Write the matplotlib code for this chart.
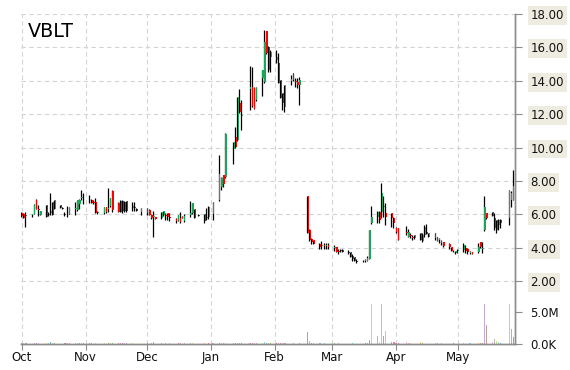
import pandas as pd
import matplotlib
matplotlib.use('Agg')
import matplotlib.pyplot as plt
import matplotlib.dates as mdates

# trading days Oct 1 2014 .. May 28 2015 (NYSE holidays removed)
holidays = ['2014-11-27', '2014-12-25', '2015-01-01', '2015-01-19',
            '2015-02-16', '2015-04-03', '2015-05-25']
dates = pd.bdate_range('2014-10-01', '2015-05-28', freq='C', holidays=holidays)

nan = float('nan')

opens = [
    # Oct
    6.10, 6.04, 5.92, 5.98, 6.04, 6.88, 6.30, 5.98, 6.54, 5.95, 6.10, 6.74,
    6.34, 6.54, 6.40, 6.00, 6.05, 6.04, 6.30, 6.24, 6.60, 7.00, 7.00,
    # Nov
    7.00, 6.85, 6.76, 6.76, 6.10, 6.10, 6.42, 6.30, 6.52, 7.40, 6.70, 6.80,
    6.80, 6.75, 6.80, 6.40, 6.45, 6.34, 6.16,
    # Dec
    6.32, 6.26, 5.98, 5.85, 5.82, 5.76, 5.96, 5.95, 6.06, 5.85, 5.72, 5.60,
    5.76, 5.86, 5.60, 5.95, 6.05, 6.30, 5.96, 6.00, 5.80, 5.86,
    # Jan
    6.04, 6.84, 7.64, 8.34, 8.24, nan, 9.94, 10.64, 10.48, 12.68, 11.90, 13.50,
    13.64, 13.54, 12.84, 14.14, 13.94, 16.98, 16.04, 15.40,
    # Feb
    15.24, 15.04, 14.04, 13.24, 12.44, 14.00, 14.44, 14.00, 13.90, 13.74,
    7.07, 5.05, 4.50, 4.44, 4.24, 4.10, 4.15, 4.10, 4.14,
    # Mar
    4.00, 4.04, 3.80, 3.85, 3.88, 3.75, 3.74, 3.50, 3.43, 3.20, 3.20, 3.20,
    3.23, 3.33, 5.45, 5.86, 6.16, 6.16, 6.45, 6.06, 6.06, 5.76,
    # Apr
    5.20, 5.15, 4.95, 4.65, 4.75, 4.65, 4.55, 4.85, 4.38, 4.75, 4.95, 4.65,
    4.85, 4.65, 4.45, 4.40, 4.34, 4.24, 4.04, 3.82, 3.68,
    # May
    3.80, 3.84, 4.00, 3.92, 3.70, 3.74, 3.74, 4.34, 3.90, 5.05, 6.06, 6.12,
    5.76, 5.66, 5.35, 5.66, 5.76, 6.87, 6.87,
]
highs = [
    6.16, 6.08, 6.14, 6.04, 6.62, 6.90, 6.54, 6.20, 6.56, 6.14, 7.30, 6.76,
    6.86, 6.56, 6.44, 6.12, 6.48, 6.46, 6.74, 6.86, 6.94, 7.45, 7.25,
    7.16, 6.90, 6.85, 6.96, 6.20, 6.46, 6.46, 7.60, 6.98, 7.46, 6.75, 6.85,
    6.85, 6.78, 6.82, 6.76, 6.74, 6.40, 6.40,
    6.40, 6.30, 6.00, 6.20, 5.86, 6.16, 6.20, 6.06, 6.08, 6.06, 5.80, 5.98,
    6.15, 5.90, 6.00, 6.80, 6.70, 6.32, 6.00, 6.02, 6.35, 6.52,
    6.76, 9.54, 8.24, 8.36, 10.86, nan, 10.34, 11.20, 13.02, 13.48, 12.84, 14.90,
    14.84, 13.60, 13.60, 14.66, 17.04, 17.00, 16.06, 15.84,
    15.84, 15.68, 14.06, 13.26, 13.76, 14.34, 14.46, 14.14, 14.14, 14.24,
    7.10, 5.10, 4.60, 4.46, 4.26, 4.38, 4.28, 4.28, 4.28,
    4.18, 4.06, 3.94, 3.94, 3.90, 3.88, 3.76, 3.64, 3.45, 3.33, 3.27, 3.33,
    3.47, 5.07, 6.50, 6.18, 6.18, 7.88, 7.07, 6.67, 6.08, 5.86,
    5.25, 5.20, 5.30, 5.10, 4.85, 4.75, 4.77, 4.86, 4.85, 5.35, 5.41, 4.87,
    4.86, 4.66, 4.60, 4.48, 4.35, 4.25, 4.05, 3.88, 3.80,
    3.90, 4.28, 4.18, 3.95, 3.80, 3.75, 4.28, 4.36, 4.34, 7.11, 6.10, 6.14,
    6.06, 5.67, 5.70, 5.70, 7.47, 7.37, 8.66,
]
lows = [
    5.86, 5.78, 5.24, 5.84, 6.00, 6.30, 5.88, 5.95, 5.84, 5.88, 5.98, 5.94,
    6.30, 6.38, 6.30, 5.88, 5.84, 6.00, 5.98, 6.20, 6.34, 6.84, 6.64,
    6.66, 6.65, 6.60, 6.05, 6.00, 6.04, 6.10, 6.16, 6.45, 6.15, 6.12, 6.12,
    6.10, 6.15, 6.15, 6.20, 6.20, 6.20, 5.98,
    5.96, 5.96, 5.72, 4.65, 5.70, 5.74, 5.90, 5.66, 5.66, 5.60, 5.50, 5.58,
    5.50, 5.75, 5.55, 5.85, 6.00, 5.75, 5.90, 5.46, 5.64, 5.74,
    5.64, 6.80, 7.44, 7.64, 8.20, nan, 9.04, 10.00, 10.40, 12.04, 11.04, 12.24,
    12.44, 12.28, 12.80, 13.08, 13.84, 15.60, 14.54, 14.54,
    15.04, 13.84, 12.94, 12.24, 12.10, 13.74, 14.00, 13.64, 13.54, 12.54,
    4.85, 4.40, 4.24, 4.20, 3.94, 3.94, 3.94, 3.94, 3.94,
    3.78, 3.72, 3.60, 3.74, 3.72, 3.60, 3.42, 3.23, 3.20, 3.09, 3.13, 3.13,
    3.20, 3.30, 5.40, 5.45, 5.45, 5.76, 5.86, 5.35, 5.25, 5.15,
    4.90, 4.44, 4.75, 4.62, 4.55, 4.48, 4.52, 4.44, 4.34, 4.65, 4.80, 4.63,
    4.44, 4.40, 4.30, 4.14, 4.04, 3.94, 3.78, 3.74, 3.64,
    3.70, 3.74, 3.68, 3.64, 3.60, 3.62, 3.68, 4.00, 3.68, 5.00, 5.70, 5.88,
    5.05, 4.85, 5.05, 5.15, 5.35, 6.46, 6.87,
]
closes = [
    5.88, 5.80, 5.95, 6.00, 6.60, 6.34, 6.25, 6.18, 5.86, 6.02, 6.18, 5.96,
    6.84, 6.40, 6.34, 5.98, 6.10, 6.44, 6.35, 6.84, 6.84, 7.05, 6.95,
    6.95, 6.70, 6.66, 6.08, 6.12, 6.44, 6.16, 6.40, 6.96, 6.25, 6.15, 6.15,
    6.20, 6.20, 6.18, 6.50, 6.40, 6.22, 6.36,
    6.06, 5.98, 5.76, 5.90, 5.72, 6.14, 6.18, 5.92, 5.86, 5.80, 5.62, 5.96,
    5.52, 5.76, 5.92, 6.05, 6.65, 5.80, 5.92, 5.60, 5.85, 6.46,
    6.72, 8.44, 8.20, 7.84, 10.84, nan, 10.32, 10.04, 13.00, 12.14, 11.95, 13.60,
    12.46, 12.30, 13.58, 14.64, 16.30, 15.64, 14.64, 15.74,
    15.44, 13.86, 12.96, 12.64, 13.74, 14.10, 14.04, 13.90, 13.75, 14.04,
    4.86, 4.44, 4.35, 4.24, 4.04, 4.15, 4.10, 4.15, 4.04,
    4.05, 3.74, 3.75, 3.80, 3.74, 3.70, 3.44, 3.35, 3.23, 3.15, 3.18, 3.25,
    3.39, 5.05, 5.86, 6.14, 5.66, 7.27, 6.50, 5.86, 5.76, 5.45,
    4.95, 4.45, 4.90, 4.95, 4.70, 4.60, 4.75, 4.45, 4.75, 5.25, 4.81, 4.85,
    4.55, 4.40, 4.50, 4.30, 4.08, 4.04, 3.80, 3.80, 3.78,
    3.85, 4.14, 3.82, 3.74, 3.72, 3.64, 4.04, 4.04, 4.00, 6.46, 5.76, 5.90,
    5.15, 5.05, 5.68, 5.45, 7.37, 7.27, 7.68,
]
# volume, millions of shares
volumes = [
    0.20, 0.15, 0.25, 0.10, 0.20, 0.25, 0.15, 0.10, 0.20, 0.15, 0.30, 0.20,
    0.15, 0.10, 0.10, 0.15, 0.20, 0.15, 0.20, 0.15, 0.20, 0.25, 0.15,
    0.20, 0.15, 0.10, 0.25, 0.10, 0.15, 0.10, 0.25, 0.15, 0.20, 0.15, 0.20,
    0.15, 0.15, 0.20, 0.15, 0.10, 0.10, 0.10,
    0.15, 0.10, 0.15, 0.30, 0.10, 0.15, 0.10, 0.15, 0.10, 0.15, 0.10, 0.15,
    0.20, 0.10, 0.15, 0.25, 0.20, 0.10, 0.05, 0.15, 0.10, 0.20,
    0.20, 0.25, 0.15, 0.15, 0.20, nan, 0.15, 0.20, 0.25, 0.20, 0.20, 0.25,
    0.20, 0.15, 0.15, 0.20, 0.30, 0.25, 0.20, 0.15,
    0.15, 0.20, 0.20, 0.15, 0.20, 0.10, 0.15, 0.10, 0.10, 0.20,
    1.90, 0.50, 0.25, 0.15, 0.15, 0.10, 0.15, 0.10, 0.10,
    0.15, 0.10, 0.15, 0.10, 0.10, 0.10, 0.10, 0.15, 0.10, 0.10, 0.10, 0.15,
    0.20, 0.70, 6.30, 1.30, 0.40, 6.30, 1.30, 2.00, 0.40, 0.40,
    0.25, 0.20, 0.35, 0.15, 0.15, 0.10, 0.10, 0.30, 0.15, 0.10, 0.10, 0.10,
    0.20, 0.15, 0.10, 0.15, 0.10, 0.10, 0.10, 0.15, 0.10,
    0.10, 0.15, 0.10, 0.10, 0.15, 0.10, 0.15, 0.20, 0.25, 6.30, 3.00, 0.40,
    0.80, 0.50, 0.30, 0.25, 6.30, 2.40, 1.10,
]

df = pd.DataFrame({'open': opens, 'high': highs, 'low': lows,
                   'close': closes, 'vol': volumes}, index=dates).dropna()

green = '#1aa65a'
red = '#ff0000'
grid_c = '#d4d4d4'
axis_c = '#8c8c8c'

fig = plt.figure(figsize=(5.7, 3.7), dpi=100)
ax = fig.add_axes([0.0377, 0.0695, 0.8663, 0.894])
ax2 = ax.twinx()

x = mdates.date2num(df.index.to_pydatetime())
up = df['close'] >= df['open']
colors = [green if u else red for u in up]

ax.vlines(x - 0.25, df['low'], df['high'], color='black', lw=0.9, zorder=3)
ax.bar(x + 0.3, df['close'] - df['open'], bottom=df['open'], width=0.6,
       color=colors, zorder=4, linewidth=0)

vol_colors = ['C%d' % (i % 10) for i in range(len(df))]
ax2.bar(x, df['vol'] * 1e6, width=0.55, color=vol_colors, alpha=0.55, linewidth=0)

ax.set_xlim(mdates.date2num(pd.Timestamp('2014-09-30 20:00')),
            mdates.date2num(pd.Timestamp('2015-05-29')))
ax.set_ylim(-1.79, 18.03)
ax2.set_ylim(0, 51.7e6)

# price ticks
price_ticks = [2, 4, 6, 8, 10, 12, 14, 16, 18]
ax.yaxis.tick_right()
ax.set_yticks(price_ticks)
ax.set_yticklabels(['%.2f' % t for t in price_ticks])
for lab in ax.get_yticklabels():
    lab.set_bbox(dict(facecolor='#eeebe0', edgecolor='none', pad=2.5))
ax.tick_params(axis='y', length=5, color=axis_c, labelsize=8.5, pad=6,
               labelcolor='#111111')

# volume ticks
ax2.set_yticks([0, 5e6])
ax2.set_yticklabels(['0.0K', '5.0M'])
ax2.tick_params(axis='y', length=5, color=axis_c, labelsize=8.5, pad=6,
                labelcolor='#111111')

ax.xaxis.set_major_locator(mdates.MonthLocator())
ax.xaxis.set_major_formatter(mdates.DateFormatter('%b'))
ax.tick_params(axis='x', length=4, color=axis_c, labelsize=8.5, pad=1,
               labelcolor='#111111')

ax.grid(True, linestyle=(0, (4, 3)), color=grid_c, linewidth=0.8)
ax.set_axisbelow(True)

for s in ['left', 'top']:
    ax.spines[s].set_visible(False)
    ax2.spines[s].set_visible(False)
for s in ['right', 'bottom']:
    ax.spines[s].set_color(axis_c)
    ax2.spines[s].set_color(axis_c)
    ax.spines[s].set_linewidth(1.0)
    ax2.spines[s].set_linewidth(1.0)

ax.text(0.0138, 0.928, 'VBLT', transform=ax.transAxes, fontsize=13.8,
        va='baseline', ha='left', color='black')

fig.savefig('out.png', dpi=100)
